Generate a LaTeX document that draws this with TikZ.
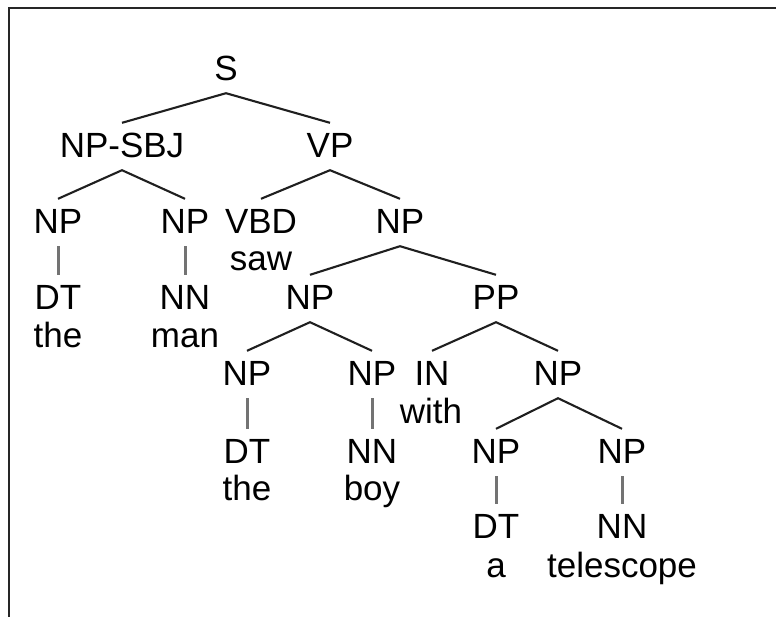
\documentclass[tikz,border=0pt]{standalone}
\usepackage{fontspec}
\setmainfont{Liberation Sans}
\begin{document}
\begin{tikzpicture}[x=1pt,y=-1pt,
  tag/.style={anchor=base,inner sep=0pt,text height=34pt,text depth=13pt,
    font=\fontsize{35}{38}\selectfont},
  word/.style={anchor=base,inner sep=0pt,font=\fontsize{35}{38}\selectfont},
  branch/.style={draw=black!88,line width=2.1pt},
  unary/.style={draw=black!55,line width=3pt}]
\useasboundingbox (0,0) rectangle (776,616);
\clip (0,0) rectangle (776,616);
% outer frame
\draw[line width=2pt,black!85] (9,8) rectangle (800,640);

% phrase labels (x = centre, y = baseline)
\node[tag] (s)    at (226,80)  {S};
\node[tag] (npsbj) at (122,157) {NP-SBJ};
\node[tag] (vp)   at (330,157) {VP};
\node[tag] (np1)  at (58,233)  {NP};
\node[tag] (np2)  at (185,233) {NP};
\node[tag] (vbd)  at (261,233) {VBD};
\node[tag] (np3)  at (400,233) {NP};
\node[word] (saw) at (261,270) {saw};
\node[tag] (dt1)  at (58,309)  {DT};
\node[tag] (nn1)  at (185,309) {NN};
\node[word] (the1) at (58,347) {the};
\node[word] (man) at (185,347) {man};
\node[tag] (np4)  at (310,309) {NP};
\node[tag] (pp)   at (496,309) {PP};
\node[tag] (np5)  at (247,385) {NP};
\node[tag] (np6)  at (372,385) {NP};
\node[tag] (in)   at (432,385) {IN};
\node[tag] (np7)  at (558,385) {NP};
\node[word] (with) at (431,423) {with};
\node[tag] (dt2)  at (247,463) {DT};
\node[tag] (nn2)  at (372,463) {NN};
\node[word] (the2) at (247,500) {the};
\node[word] (boy) at (372,500) {boy};
\node[tag] (np8)  at (496,463) {NP};
\node[tag] (np9)  at (622,463) {NP};
\node[tag] (dt3)  at (496,538) {DT};
\node[tag] (nn3)  at (622,538) {NN};
\node[word] (a)   at (496,577) {a};
\node[word] (tel) at (622,577) {telescope};

% branches
\draw[branch] (npsbj.north) -- (s.south) -- (vp.north);
\draw[branch] (np1.north) -- (npsbj.south) -- (np2.north);
\draw[branch] (vbd.north) -- (vp.south) -- (np3.north);
\draw[branch] (np4.north) -- (np3.south) -- (pp.north);
\draw[branch] (np5.north) -- (np4.south) -- (np6.north);
\draw[branch] (in.north) -- (pp.south) -- (np7.north);
\draw[branch] (np8.north) -- (np7.south) -- (np9.north);

% unary links
\draw[unary] (np1.south) -- (dt1.north);
\draw[unary] (np2.south) -- (nn1.north);
\draw[unary] (np5.south) -- (dt2.north);
\draw[unary] (np6.south) -- (nn2.north);
\draw[unary] (np8.south) -- (dt3.north);
\draw[unary] (np9.south) -- (nn3.north);
\end{tikzpicture}
\end{document}
